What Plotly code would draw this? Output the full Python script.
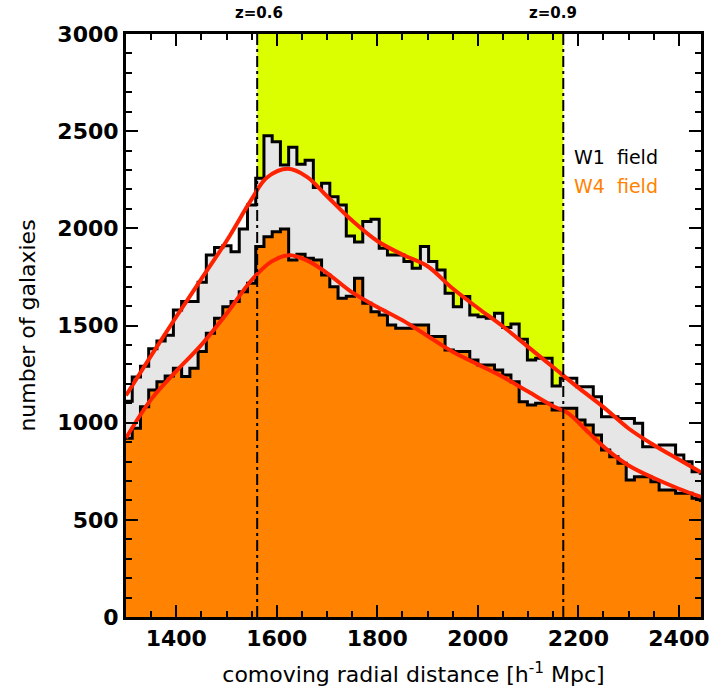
import numpy as np
import plotly.graph_objects as go

# ---- data ----
bin_start = 1296.0
bin_width = 16.38

w1_counts = [1110, 1235, 1290, 1380, 1420, 1450, 1580, 1623, 1623, 1722,
             1863, 1901, 1911, 1880, 1997, 2120, 2258, 2476, 2446, 2326,
             2417, 2330, 2350, 2210, 2232, 2163, 2120, 1960, 1930, 2035,
             2047, 1898, 1863, 1863, 1829, 1795, 1906, 1829, 1786, 1666,
             1597, 1649, 1554, 1545, 1537, 1563, 1490, 1508, 1429, 1323,
             1331, 1331, 1189, 1228, 1228, 1185, 1185, 1134, 1031, 1031,
             1022, 1022, 997, 876, 876, 885, 885, 834, 799, 748,
             740]

w4_counts = [920, 971, 1082, 1168, 1211, 1240, 1280, 1237, 1280, 1366,
             1460, 1537, 1597, 1623, 1674, 1718, 1906, 1957, 1983, 1997,
             1837, 1867, 1846, 1837, 1760, 1700, 1640, 1650, 1743, 1614,
             1571, 1554, 1503, 1486, 1486, 1503, 1503, 1443, 1443, 1374,
             1366, 1366, 1323, 1297, 1297, 1271, 1245, 1211, 1108, 1091,
             1100, 1100, 1065, 1074, 1074, 1014, 988, 937, 859, 825,
             791, 705, 722, 722, 696, 654, 654, 637, 637, 611,
             600]

w1_fit_x = [1300, 1350, 1400, 1450, 1500, 1550, 1580, 1622, 1660, 1700, 1750, 1800,
            1850, 1900, 1950, 2000, 2050, 2100, 2150, 2200, 2250, 2300, 2350, 2400, 2444]
w1_fit_y = [1140, 1345, 1545, 1740, 1935, 2150, 2260, 2306, 2265, 2165, 2040, 1935,
            1865, 1805, 1690, 1590, 1495, 1390, 1285, 1180, 1080, 970, 885, 810, 745]

w4_fit_x = [1300, 1350, 1400, 1450, 1500, 1550, 1590, 1625, 1660, 1700, 1750, 1800,
            1850, 1900, 1950, 2000, 2050, 2100, 2150, 2180, 2220, 2260, 2300, 2350, 2400, 2444]
w4_fit_y = [921, 1120, 1265, 1400, 1560, 1734, 1830, 1862, 1835, 1770, 1670, 1595,
            1527, 1446, 1365, 1300, 1235, 1160, 1085, 1048, 950, 855, 780, 715, 660, 618]

z_lines = [1561, 2170]
z_labels = ["z=0.6", "z=0.9"]

x_range = [1300, 2444]
y_range = [0, 3000]

# ---- layout geometry (pixels) ----
L, R, T, B = 126, 10, 34, 79
W, H = 719, 696
PW, PH = W - L - R, H - T - B


def px2paper(px, py):
    return (px - L) / PW, (H - B - py) / PH


# ---- figure ----
n = len(w1_counts)
edges = bin_start + bin_width * np.arange(n + 1)
step_x = list(edges)
w1_y = list(w1_counts) + [w1_counts[-1]]
w4_y = list(w4_counts) + [w4_counts[-1]]

fig = go.Figure()
fig.add_trace(go.Scatter(x=step_x, y=w1_y, mode="lines", line_shape="hv",
                         line=dict(color="black", width=3),
                         fill="tozeroy", fillcolor="#e6e6e6", showlegend=False))
fig.add_trace(go.Scatter(x=step_x, y=w4_y, mode="lines", line_shape="hv",
                         line=dict(color="black", width=3),
                         fill="tozeroy", fillcolor="#ff8200", showlegend=False))
fig.add_trace(go.Scatter(x=w1_fit_x, y=w1_fit_y, mode="lines", line_shape="spline",
                         line=dict(color="#ff2200", width=4), showlegend=False))
fig.add_trace(go.Scatter(x=w4_fit_x, y=w4_fit_y, mode="lines", line_shape="spline",
                         line=dict(color="#ff2200", width=4), showlegend=False))

# yellow band between redshift lines
fig.add_shape(type="rect", xref="x", yref="y", x0=z_lines[0], x1=z_lines[1],
              y0=y_range[0], y1=y_range[1], fillcolor="#dcff00",
              line=dict(width=0), layer="below")
for zx in z_lines:
    fig.add_shape(type="line", xref="x", yref="y", x0=zx, x1=zx,
                  y0=y_range[0], y1=y_range[1],
                  line=dict(color="black", width=2, dash="11px,4px,3px,4px"),
                  layer="above")

font_fam = "DejaVu Sans"
for lbl, cx in zip(z_labels, [261, 559]):
    ax_, ay_ = px2paper(cx, 13)
    fig.add_annotation(text=lbl, x=ax_, y=ay_, xref="paper", yref="paper",
                       xanchor="center", yanchor="middle", showarrow=False,
                       font=dict(family=font_fam, size=15, color="black", weight="bold"))

lx, ly1 = px2paper(578, 157)
_, ly2 = px2paper(578, 186)
fig.add_annotation(text="W1\u00a0\u00a0field", x=lx, y=ly1,
                   xref="paper", yref="paper", xanchor="left", yanchor="middle",
                   showarrow=False, font=dict(family=font_fam, size=19, color="black"))
fig.add_annotation(text="W4\u00a0\u00a0field", x=lx, y=ly2,
                   xref="paper", yref="paper", xanchor="left", yanchor="middle",
                   showarrow=False, font=dict(family=font_fam, size=19, color="#ff8200"))

fig.update_layout(
    width=W, height=H,
    margin=dict(l=L, r=R, t=T, b=B),
    paper_bgcolor="white", plot_bgcolor="white",
    font=dict(family=font_fam, color="black"),
)
fig.update_xaxes(range=x_range, dtick=200, tick0=1400, ticks="inside", ticklen=12, tickwidth=2,
                 tickcolor="black", showline=True, linewidth=3, linecolor="black",
                 mirror="allticks", showgrid=False, zeroline=False,
                 minor=dict(dtick=50, ticks="inside", ticklen=6, tickwidth=2, tickcolor="black", showgrid=False),
                 tickfont=dict(family=font_fam, size=22, weight="bold"),
                 title=dict(text="comoving radial distance [h<sup>-1</sup> Mpc]", standoff=17,
                            font=dict(family=font_fam, size=22)))
fig.update_yaxes(range=y_range, dtick=500, ticks="inside", ticklen=12, tickwidth=2,
                 tickcolor="black", showline=True, linewidth=3, linecolor="black",
                 mirror="allticks", showgrid=False, zeroline=False,
                 minor=dict(dtick=100, ticks="inside", ticklen=6, tickwidth=2, tickcolor="black", showgrid=False),
                 tickfont=dict(family=font_fam, size=22, weight="bold"),
                 title=dict(text="number of galaxies", standoff=16,
                            font=dict(family=font_fam, size=22)))

fig.write_html("out.html")
